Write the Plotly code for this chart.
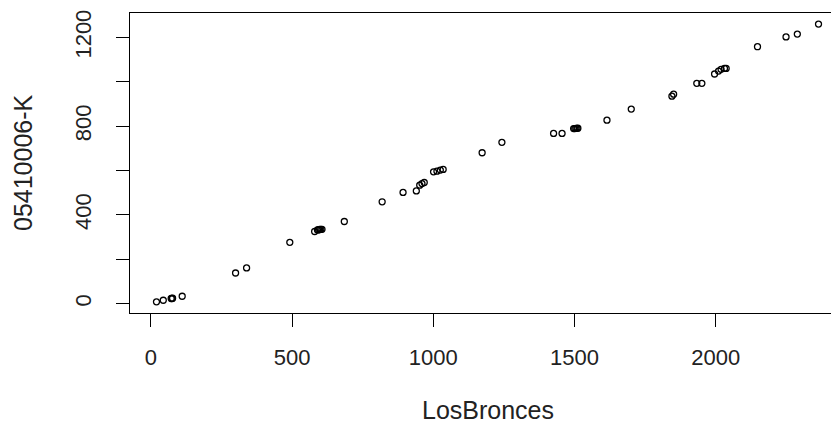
import plotly.graph_objects as go

los_bronces = [20, 44, 72, 75, 77, 111, 300, 339, 492, 580, 590, 594, 598, 602, 606, 685,
               819, 893, 940, 952, 960, 968, 1001, 1013, 1025, 1035, 1173, 1243,
               1426, 1456, 1497, 1501, 1505, 1509, 1512, 1615, 1701, 1845, 1851, 1933, 1951,
               1996, 2010, 2019, 2031, 2037, 2148, 2249, 2289, 2364]
k_0541 = [8, 15, 23, 23, 24, 33, 138, 161, 276, 325, 332, 333, 334, 335, 335, 370,
          459, 501, 508, 534, 541, 546, 594, 597, 602, 605, 680, 727,
          767, 767, 789, 789, 790, 790, 791, 827, 877, 935, 944, 993, 993,
          1035, 1048, 1056, 1060, 1060, 1158, 1202, 1215, 1260]

x_ticks = [0, 500, 1000, 1500, 2000]
y_ticks = [0, 200, 400, 600, 800, 1000, 1200]
y_ticktext = ["0", "", "400", "", "800", "", "1200"]

FONT = "Liberation Sans, Arial, sans-serif"

fig = go.Figure(go.Scatter(
    x=los_bronces, y=k_0541, mode="markers",
    marker=dict(symbol="circle-open", size=6, color="black", line=dict(width=1.3, color="black")),
    showlegend=False,
))

fig.update_layout(
    width=839, height=439,
    margin=dict(l=122, r=2, t=5, b=134),
    paper_bgcolor="white", plot_bgcolor="white",
    font=dict(family=FONT, size=22, color="black"),
    xaxis=dict(range=[-73.8, 2457.8], tickvals=x_ticks, showgrid=False, zeroline=False,
               showline=True, linecolor="black", linewidth=1, mirror=True,
               ticks="outside", ticklen=13, tickcolor="black", tickwidth=1,
               ticklabelstandoff=12,
               tickfont=dict(size=22, color="#222")),
    yaxis=dict(range=[-42.4, 1310], tickvals=y_ticks, ticktext=y_ticktext,
               showgrid=False, zeroline=False,
               showline=True, linecolor="black", linewidth=1, mirror=False,
               ticks="outside", ticklen=13, tickcolor="black", tickwidth=1,
               tickangle=-90, ticklabelstandoff=16,
               tickfont=dict(size=22, color="#222")),
    annotations=[
        dict(text="LosBronces", xref="paper", yref="paper", x=0.5, y=0,
             yshift=-97, showarrow=False, xanchor="center", yanchor="middle",
             font=dict(size=25, color="#222")),
        dict(text="05410006-K", xref="paper", yref="paper", x=0, y=0.5,
             xshift=-107, showarrow=False, xanchor="center", yanchor="middle",
             textangle=-90, font=dict(size=25, color="#222")),
    ],
)

fig.write_html("out.html")
